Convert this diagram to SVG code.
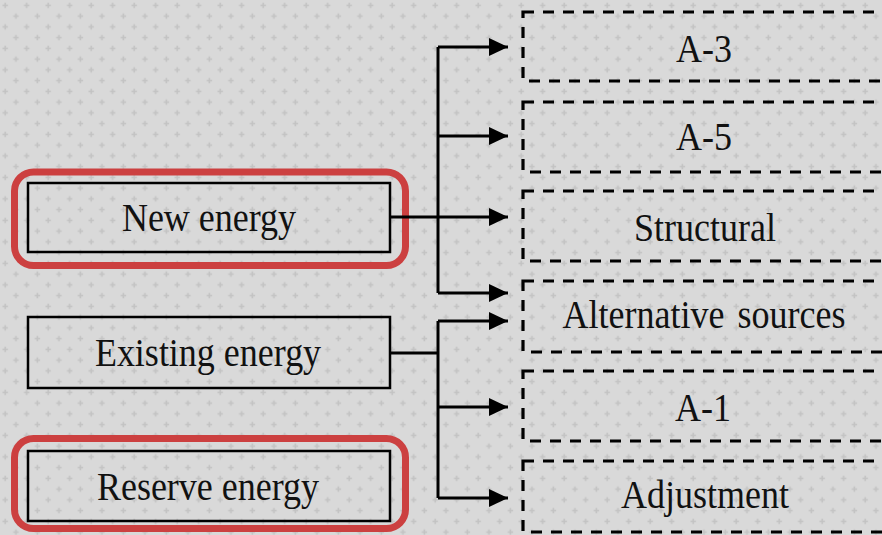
<svg xmlns="http://www.w3.org/2000/svg" width="882" height="535" viewBox="0 0 882 535">
  <defs>
    <pattern id="bg" width="21.5" height="21.5" patternUnits="userSpaceOnUse">
      <rect width="21.5" height="21.5" fill="#d9d9d9"/>
      <path d="M2.5,5.4h5.4M5.2,2.7v5.4M13.25,16.15h5.4M15.95,13.45v5.4" stroke="#c3c3c3" stroke-width="1.6"/>
    </pattern>
    <marker id="arr" markerUnits="userSpaceOnUse" markerWidth="19" markerHeight="19" refX="19" refY="9.5" orient="auto">
      <path d="M0,0.5L19,9.5L0,18.5Z" fill="#000"/>
    </marker>
    <style>
      .t{font-family:"Liberation Serif","Times New Roman",serif;font-size:36px;fill:#111;text-anchor:middle}
      .box{fill:none;stroke:#000;stroke-width:2.5}
      .dash{fill:none;stroke:#000;stroke-width:3.2;stroke-dasharray:11 9}
      .hl{fill:none;stroke:#cc4040;stroke-width:7}
      .c{fill:none;stroke:#000;stroke-width:3}
    </style>
  </defs>
  <rect width="882" height="535" fill="url(#bg)"/>

  <g id="new-energy">
    <rect class="hl" x="14.5" y="172" width="391" height="93.5" rx="19"/>
    <rect class="box" x="28" y="183" width="362" height="69"/>
    <text class="t" transform="translate(209,230.5) scale(1,1.1)">New energy</text>
  </g>
  <g id="existing-energy">
    <rect class="box" x="28" y="317" width="362" height="71"/>
    <text class="t" transform="translate(208,365.5) scale(1,1.1)">Existing energy</text>
  </g>
  <g id="reserve-energy">
    <rect class="hl" x="14.5" y="438.5" width="391" height="90" rx="19"/>
    <rect class="box" x="28" y="451" width="362" height="70"/>
    <text class="t" transform="translate(208,500) scale(1,1.1)">Reserve energy</text>
  </g>

  <g id="a3">
    <rect class="dash" x="523" y="12" width="364" height="69"/>
    <text class="t" transform="translate(704,62) scale(1,1.1)">A-3</text>
  </g>
  <g id="a5">
    <rect class="dash" x="523" y="102" width="364" height="70"/>
    <text class="t" transform="translate(704,150) scale(1,1.1)">A-5</text>
  </g>
  <g id="structural">
    <rect class="dash" x="523" y="191" width="364" height="70"/>
    <text class="t" transform="translate(705,241) scale(1,1.1)">Structural</text>
  </g>
  <g id="alternative">
    <rect class="dash" x="523" y="281" width="364" height="71"/>
    <text class="t" transform="translate(704,328) scale(1,1.1)" word-spacing="4">Alternative sources</text>
  </g>
  <g id="a1">
    <rect class="dash" x="523" y="371" width="364" height="70"/>
    <text class="t" transform="translate(703,421) scale(1,1.1)">A-1</text>
  </g>
  <g id="adjustment">
    <rect class="dash" x="523" y="461" width="364" height="71"/>
    <text class="t" transform="translate(705,508) scale(1,1.1)">Adjustment</text>
  </g>

  <g id="connectors">
    <path class="c" d="M390,217H438"/>
    <path class="c" d="M438,293V47"/>
    <path class="c" d="M438,47H508" marker-end="url(#arr)"/>
    <path class="c" d="M438,136H508" marker-end="url(#arr)"/>
    <path class="c" d="M438,217H508" marker-end="url(#arr)"/>
    <path class="c" d="M438,293H508" marker-end="url(#arr)"/>
    <path class="c" d="M390,353H438"/>
    <path class="c" d="M438,321V498"/>
    <path class="c" d="M438,321H508" marker-end="url(#arr)"/>
    <path class="c" d="M438,407H508" marker-end="url(#arr)"/>
    <path class="c" d="M438,498H508" marker-end="url(#arr)"/>
  </g>
</svg>
